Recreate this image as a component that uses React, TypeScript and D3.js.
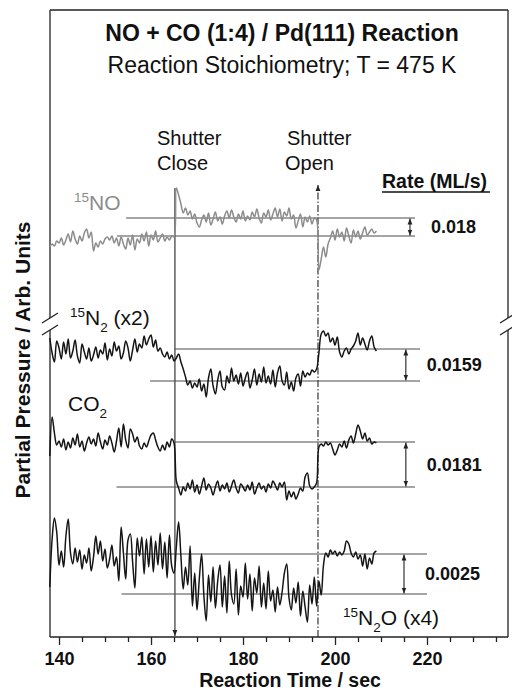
import React, { useEffect, useRef } from "react";
import * as d3 from "d3";

// sampling of the recorded traces (s)
const T_START = 138;
const T_STEP = 0.5;
const T_CLOSE = 165.2;
const T_OPEN = 196.3;

const majorTicks = [140, 160, 180, 200, 220];
const minorTicks = [145, 150, 155, 165, 170, 175, 185, 190, 195, 205, 210, 215, 225, 230, 235];

// 15NO, gray trace (138 - 165 s, 165.5 - 196 s, 196.5 - 209 s)
const noBefore = [
  39.0, 39.3, 39.1, 39.6, 39.4, 39.9, 39.2, 39.7, 40.3, 39.5,
  40.6, 39.8, 39.3, 40.1, 39.6, 40.4, 40.8, 39.9, 40.5, 38.6,
  39.4, 39.0, 39.6, 39.3, 39.8, 40.0, 39.7, 40.1, 39.4, 39.9,
  39.1, 40.0, 39.3, 38.8, 39.9, 39.2, 40.2, 38.7, 39.8, 39.4,
  40.3, 39.6, 40.5, 39.1, 40.2, 39.7, 40.6, 39.5, 39.9, 40.3,
  39.6, 40.0, 39.7, 40.1, 40.0,
];
const noClosed = [
  44.9, 44.2, 43.3, 42.4, 42.9, 42.2, 42.6, 41.8, 42.3, 41.4,
  41.0, 41.7, 42.2, 41.5, 42.4, 41.2, 41.8, 42.5, 41.6, 42.0,
  41.3, 42.1, 42.6, 41.9, 42.7, 42.0, 41.5, 42.3, 41.8, 42.6,
  41.6, 42.1, 41.7, 42.5, 42.0, 42.8, 41.9, 41.4, 42.4, 42.0,
  42.7, 41.7, 42.3, 42.9, 42.0, 42.8, 41.6, 42.5, 42.1, 42.9,
  41.8, 42.2, 40.9, 41.6, 42.3, 41.0, 42.0, 41.5, 42.1, 41.3,
  41.9, 41.7,
];
const noAfter = [
  36.7, 37.8, 39.0, 38.0, 39.3, 39.9, 40.6, 39.7, 40.8, 40.0,
  40.5, 39.6, 40.9, 40.1, 39.4, 40.7, 40.0, 40.6, 39.8, 40.4,
  41.0, 40.2, 40.5, 40.8, 40.4, 40.6,
];

// 15N2 (x2)
const n2Before = [
  29.9, 28.4, 27.5, 29.6, 28.9, 27.8, 29.5, 28.3, 29.8, 27.9,
  28.6, 29.7, 28.1, 27.4, 29.3, 28.5, 27.8, 28.9, 27.6, 28.2,
  29.0, 27.9, 28.7, 28.3, 29.4, 27.7, 28.8, 28.1, 29.5, 28.6,
  29.1, 27.8, 28.4, 29.6, 28.9, 27.6, 28.7, 29.8, 28.5, 29.3,
  28.9, 30.1, 29.2, 29.8, 30.2, 29.0, 29.7, 28.6, 28.9, 28.3,
  28.0, 28.5, 27.8, 28.2, 27.6,
];
const n2Closed = [
  27.9, 28.3, 27.5, 26.8, 26.0, 25.2, 25.6, 24.9, 25.4, 25.0,
  25.8, 24.6, 25.3, 24.0, 25.9, 26.8, 25.1, 24.3, 25.7, 26.6,
  25.0, 24.7, 26.1, 25.4, 26.9, 25.6, 26.2, 25.3, 26.4, 25.1,
  25.9, 26.5, 24.9, 25.7, 26.8, 25.2, 26.3, 25.5, 27.0, 25.4,
  26.1, 25.3, 26.7, 25.0, 26.4, 27.1, 25.6, 25.2, 26.5, 24.8,
  25.5, 24.6, 25.9, 26.3, 25.1, 26.6, 26.0, 26.4, 26.2, 26.7,
  26.5, 26.8,
];
const n2After = [
  28.4, 30.3, 30.6, 30.1, 30.4, 29.5, 29.9, 29.2, 30.0, 28.5,
  28.0, 28.6, 28.9, 28.3, 28.8, 29.1, 29.6, 30.4, 29.2, 29.9,
  29.3, 28.7, 29.6, 30.1, 29.0, 28.6,
];

// CO2
const co2Before = [
  18.1, 22.0, 20.4, 19.2, 19.6, 19.0, 19.8, 18.7, 19.5, 18.9,
  19.9, 19.2, 20.3, 19.0, 19.6, 18.6, 19.4, 20.0, 19.3, 19.8,
  19.1, 20.4, 19.5, 18.8, 19.7, 19.2, 20.1, 19.4, 18.5, 19.6,
  20.9, 19.0, 21.3, 19.7, 18.9, 20.8, 20.3, 19.5, 20.0, 19.1,
  18.8, 19.4, 19.0, 19.6, 20.2, 20.4, 19.7, 19.0, 18.6, 19.2,
  18.7, 19.5, 19.0, 19.8, 19.4,
];
const co2Closed = [
  15.6, 14.9, 14.2, 15.0, 14.6, 15.4, 14.8, 15.7, 14.5, 15.2,
  14.3, 15.1, 15.9, 14.7, 15.3, 14.9, 14.2, 15.0, 15.6, 14.6,
  15.2, 14.8, 15.4, 14.5, 15.1, 15.7, 14.9, 14.4, 15.3, 15.0,
  14.6, 15.2, 14.7, 15.5, 14.3, 14.9, 15.4, 14.8, 15.1, 14.5,
  15.3, 14.9, 15.6, 15.2, 14.7, 15.4, 15.0, 15.5, 13.7, 14.6,
  14.0, 14.5, 13.8, 14.3, 14.9, 14.6, 16.0, 16.4, 15.1, 14.8,
  15.0, 15.4,
];
const co2After = [
  19.0, 19.3, 19.1, 19.5, 19.2, 19.4, 18.8, 18.2, 18.7, 19.3,
  19.0, 19.6, 18.9, 19.7, 20.1, 19.4, 20.3, 21.2, 20.6, 19.8,
  20.4, 19.6, 19.9, 19.3, 19.5, 19.4,
];

// 15N2O (x4)
const n2oBefore = [
  5.0, 9.8, 11.9, 10.5, 7.2, 8.6, 7.0, 10.1, 11.8, 8.4,
  7.3, 8.9, 7.5, 8.7, 6.8, 8.2, 7.4, 8.9, 6.6, 8.0,
  10.1, 8.3, 9.6, 7.6, 8.8, 6.9, 7.8, 9.2, 7.1, 8.0,
  5.6, 11.0, 8.4, 5.8, 9.7, 10.3, 7.5, 4.9, 9.9, 8.1,
  10.0, 6.3, 9.8, 7.0, 10.1, 6.5, 9.6, 7.2, 10.4, 6.8,
  9.5, 5.9, 10.2, 7.1, 6.4,
];
const n2oClosed = [
  9.0, 11.5, 8.1, 4.8, 7.0, 5.2, 9.1, 3.1, 6.4, 2.7,
  5.8, 8.3, 4.1, 1.6, 6.2, 3.5, 7.0, 2.9, 5.6, 7.2,
  3.0, 6.1, 2.4, 7.6, 4.2, 3.3, 6.8, 2.2, 5.1, 4.0,
  7.4, 3.8, 6.3, 2.6, 5.9, 4.4, 7.1, 3.0, 5.4, 2.8,
  6.6, 3.6, 4.7, 2.5, 5.0, 3.2, 4.5, 6.4, 7.3, 3.9,
  2.7, 4.9, 3.4, 5.5, 2.1, 4.6, 3.0, 1.5, 5.2, 3.3,
  6.0, 3.1,
];
const n2oAfter = [
  5.6, 4.2, 7.2, 8.4, 8.0, 8.7, 8.3, 8.6, 8.1, 8.5,
  8.2, 8.6, 9.6, 9.3, 8.4, 8.0, 8.5, 7.8, 8.2, 7.1,
  8.3, 6.8, 7.9, 7.3, 8.4, 8.6,
];

// steady-state levels used for the rate estimate
const levelHigh = [41.9, 28.8, 19.5, 8.3];
const levelLow = [40.1, 25.6, 15.0, 4.3];
const levelHighFrom = [154.6, 165.2, 165.2, 154.3];
const levelLowFrom = [152.6, 159.8, 152.5, 153.6];
const levelTo = [217.4, 218.5, 217.4, 220.0];
const rateArrowAt = [216.3, 215.4, 215.4, 215.0];
const rates = ["0.018", "0.0159", "0.0181", "0.0025"];

const W = 512;
const H = 691;
const FONT = "'Liberation Sans', Arial, Helvetica, sans-serif";

export default function App() {
  const ref = useRef<SVGSVGElement>(null);

  useEffect(() => {
    const svg = d3.select(ref.current);
    svg.selectAll("*").remove();

    const margin = { top: 10, right: 4, bottom: 54, left: 50 };
    const x = d3.scaleLinear().domain([138.04, 237.61]).range([margin.left, W - margin.right]);
    const y = d3.scaleLinear().domain([0, 62.7]).range([H - margin.bottom, margin.top]);
    const x0 = margin.left, x1 = W - margin.right, y0 = margin.top, y1 = H - margin.bottom;

    const defs = svg.append("defs");
    defs.append("marker")
      .attr("id", "head")
      .attr("viewBox", "0 0 10 10")
      .attr("refX", 10)
      .attr("refY", 5)
      .attr("markerUnits", "userSpaceOnUse")
      .attr("markerWidth", 6)
      .attr("markerHeight", 6)
      .attr("orient", "auto-start-reverse")
      .append("path")
      .attr("d", "M0,1 L10,5 L0,9 Z")
      .attr("fill", "#222");

    // frame with axis break
    const brk = [y(31.9), y(30.7)];
    const frame = svg.append("g").attr("stroke", "#222").attr("stroke-width", 1.3).attr("fill", "none");
    frame.append("line").attr("x1", x0).attr("x2", x1).attr("y1", y0).attr("y2", y0);
    frame.append("line").attr("x1", x0).attr("x2", x1).attr("y1", y1).attr("y2", y1);
    [x0, x1].forEach((xx) => {
      frame.append("line").attr("x1", xx).attr("x2", xx).attr("y1", y0).attr("y2", brk[0]);
      frame.append("line").attr("x1", xx).attr("x2", xx).attr("y1", brk[1]).attr("y2", y1);
      brk.forEach((by) => {
        frame.append("line")
          .attr("x1", xx - 8).attr("y1", by + 5)
          .attr("x2", xx + 8).attr("y2", by - 5);
      });
    });

    // bottom axis
    const gMinor = svg.append("g").attr("transform", `translate(0,${y1})`)
      .call(d3.axisBottom(x).tickValues(minorTicks).tickSize(5).tickFormat(() => ""));
    gMinor.select(".domain").remove();
    const gMajor = svg.append("g").attr("transform", `translate(0,${y1})`)
      .call(d3.axisBottom(x).tickValues(majorTicks).tickSize(8).tickPadding(7).tickFormat(d3.format("d")));
    gMajor.select(".domain").remove();
    svg.selectAll(".tick line").attr("stroke", "#222").attr("stroke-width", 1.3);
    gMajor.selectAll("text")
      .attr("font-family", FONT)
      .attr("font-size", 18)
      .attr("font-weight", "bold")
      .attr("fill", "#111");

    svg.append("text")
      .attr("x", 290).attr("y", 686.5)
      .attr("text-anchor", "middle")
      .attr("font-family", FONT).attr("font-size", 19.5).attr("font-weight", "bold")
      .attr("fill", "#111")
      .text("Reaction Time / sec");

    svg.append("text")
      .attr("transform", "translate(30,360) rotate(-90)")
      .attr("text-anchor", "middle")
      .attr("font-family", FONT).attr("font-size", 21).attr("font-weight", "bold")
      .attr("fill", "#111")
      .text("Partial Pressure / Arb. Units");

    // titles
    svg.append("text")
      .attr("x", 282).attr("y", 41)
      .attr("text-anchor", "middle")
      .attr("font-family", FONT).attr("font-size", 23).attr("font-weight", "bold")
      .attr("fill", "#111")
      .text("NO + CO (1:4) / Pd(111) Reaction");
    svg.append("text")
      .attr("x", 282).attr("y", 73)
      .attr("text-anchor", "middle")
      .attr("font-family", FONT).attr("font-size", 23)
      .attr("fill", "#111")
      .text("Reaction Stoichiometry; T = 475 K");

    // shutter markers
    svg.append("line")
      .attr("x1", x(T_CLOSE)).attr("x2", x(T_CLOSE))
      .attr("y1", y(44.9)).attr("y2", y1 - 1)
      .attr("stroke", "#222").attr("stroke-width", 1.1)
      .attr("marker-end", "url(#head)");
    svg.append("line")
      .attr("x1", x(T_OPEN)).attr("x2", x(T_OPEN))
      .attr("y1", y1).attr("y2", y(45.2))
      .attr("stroke", "#222").attr("stroke-width", 1.1)
      .attr("stroke-dasharray", "7,2,1.5,2")
      .attr("marker-end", "url(#head)");

    const label = (xx: number, yy: number, lines: string[]) => {
      lines.forEach((s, i) => {
        svg.append("text")
          .attr("x", xx).attr("y", yy + i * 25)
          .attr("font-family", FONT).attr("font-size", 20)
          .attr("fill", "#111")
          .text(s);
      });
    };
    label(157, 145, ["Shutter", "Close"]);
    label(287, 145, ["Shutter"]);
    label(285, 170, ["Open"]);

    svg.append("text")
      .attr("x", 382).attr("y", 188)
      .attr("font-family", FONT).attr("font-size", 19.5).attr("font-weight", "bold")
      .attr("fill", "#111")
      .text("Rate (ML/s)");
    svg.append("line")
      .attr("x1", 382).attr("x2", 490).attr("y1", 192).attr("y2", 192)
      .attr("stroke", "#111").attr("stroke-width", 1.6);

    // level lines, rate arrows and values
    levelHigh.forEach((hi, i) => {
      const lo = levelLow[i];
      const g = svg.append("g").attr("stroke", "#4a4a4a").attr("stroke-width", 1);
      g.append("line").attr("x1", x(levelHighFrom[i])).attr("x2", x(levelTo[i])).attr("y1", y(hi)).attr("y2", y(hi));
      g.append("line").attr("x1", x(levelLowFrom[i])).attr("x2", x(levelTo[i])).attr("y1", y(lo)).attr("y2", y(lo));
      svg.append("line")
        .attr("x1", x(rateArrowAt[i])).attr("x2", x(rateArrowAt[i]))
        .attr("y1", y(hi) + 0.5).attr("y2", y(lo) - 0.5)
        .attr("stroke", "#222").attr("stroke-width", 1.1)
        .attr("marker-start", "url(#head)")
        .attr("marker-end", "url(#head)");
      svg.append("text")
        .attr("x", x(rateArrowAt[i]) + 21)
        .attr("y", (y(hi) + y(lo)) / 2 + 6)
        .attr("font-family", FONT).attr("font-size", 18).attr("font-weight", "bold")
        .attr("fill", "#111")
        .text(rates[i]);
    });

    // traces
    const traces = [
      { values: [...noBefore, ...noClosed, ...noAfter], color: "#8c8c8c" },
      { values: [...n2Before, ...n2Closed, ...n2After], color: "#151515" },
      { values: [...co2Before, ...co2Closed, ...co2After], color: "#151515" },
      { values: [...n2oBefore, ...n2oClosed, ...n2oAfter], color: "#151515" },
    ];
    const line = d3.line<number>()
      .x((_, i) => x(T_START + i * T_STEP))
      .y((d) => y(d))
      .curve(d3.curveCatmullRom.alpha(0.5));
    traces.forEach((tr) => {
      svg.append("path")
        .attr("d", line(tr.values) ?? "")
        .attr("fill", "none")
        .attr("stroke", tr.color)
        .attr("stroke-width", 1.5)
        .attr("stroke-linejoin", "round");
    });

    // species labels
    const species = (xx: number, yy: number, parts: [string, "sup" | "sub" | "n"][], color: string) => {
      const t = svg.append("text")
        .attr("x", xx).attr("y", yy)
        .attr("font-family", FONT).attr("font-size", 21)
        .attr("fill", color);
      let shift = 0;
      parts.forEach(([s, kind]) => {
        const target = kind === "sup" ? -8 : kind === "sub" ? 7 : 0;
        t.append("tspan")
          .attr("dy", target - shift)
          .attr("font-size", kind === "n" ? 21 : 13.5)
          .text(s);
        shift = target;
      });
    };
    species(74, 210, [["15", "sup"], ["NO", "n"]], "#8c8c8c");
    species(70, 325, [["15", "sup"], ["N", "n"], ["2", "sub"], [" (x2)", "n"]], "#111");
    species(68, 411, [["CO", "n"], ["2", "sub"]], "#111");
    species(343, 625, [["15", "sup"], ["N", "n"], ["2", "sub"], ["O (x4)", "n"]], "#111");
  }, []);

  return (
    <div style={{ position: "absolute", left: 0, top: 0, background: "#fff" }}>
      <svg ref={ref} width={W} height={H} style={{ display: "block" }} />
    </div>
  );
}
